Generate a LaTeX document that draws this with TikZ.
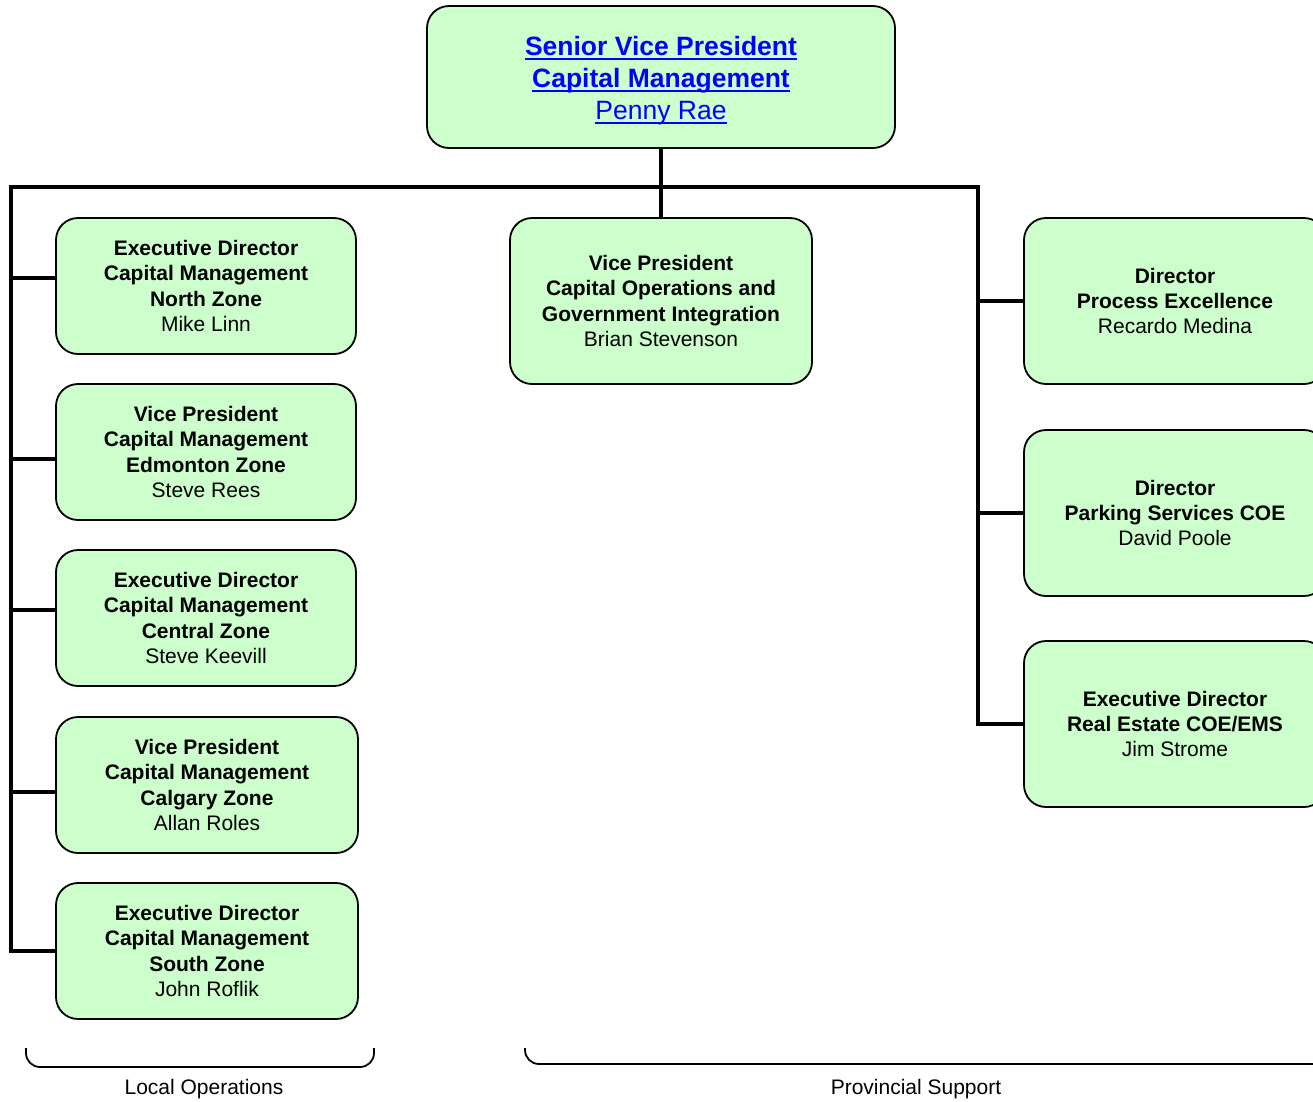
\documentclass[tikz,border=0pt]{standalone}
\usepackage{fontspec}
\setmainfont{Liberation Sans}
\definecolor{boxfill}{HTML}{CCFFCC}
\definecolor{linkblue}{HTML}{0000FF}
\newcommand\myul[2][2pt]{\leavevmode\setbox0\hbox{#2}\rlap{\vrule width\wd0 height -2.5pt depth \dimexpr2.5pt+#1\relax}\box0}
\begin{document}
\begin{tikzpicture}[x=1pt,y=-1pt,
  orgbox/.style={draw=black, line width=1.8pt, fill=boxfill, rounded corners=22pt,
    inner sep=0pt, align=center, font=\fontsize{21}{25.3}\selectfont},
  toptext/.style={inner sep=0pt, align=center, text=linkblue, font=\fontsize{26.5}{32}\selectfont},
  conn/.style={line width=3.2pt, line cap=rect},
  bracepath/.style={line width=1.8pt, rounded corners=14pt},
  lbl/.style={font=\fontsize{21}{25}\selectfont, inner sep=0pt}]
\useasboundingbox (0,0) rectangle (1313,1101);
\clip (0,0) rectangle (1313,1101);

% top
\node[orgbox, minimum width=468pt, minimum height=142pt] (top) at (661,77) {};
\node[toptext] (toplbl) at (661,81)
  {\bfseries\myul{Senior Vice President}\\ \bfseries\myul{Capital Management}\\ \myul[1.6pt]{Penny Rae}};

% left column
\node[orgbox, minimum width=300pt, minimum height=136pt] (n1) at (206,286)
  {\bfseries Executive Director\\ \bfseries Capital Management\\ \bfseries North Zone\\ Mike Linn};
\node[orgbox, minimum width=300pt, minimum height=136pt] (n2) at (206,452)
  {\bfseries Vice President\\ \bfseries Capital Management\\ \bfseries Edmonton Zone\\ Steve Rees};
\node[orgbox, minimum width=300pt, minimum height=136pt] (n3) at (206,618)
  {\bfseries Executive Director\\ \bfseries Capital Management\\ \bfseries Central Zone\\ Steve Keevill};
\node[orgbox, minimum width=302pt, minimum height=136pt] (n4) at (207,785)
  {\bfseries Vice President\\ \bfseries Capital Management\\ \bfseries Calgary Zone\\ Allan Roles};
\node[orgbox, minimum width=302pt, minimum height=136pt] (n5) at (207,951)
  {\bfseries Executive Director\\ \bfseries Capital Management\\ \bfseries South Zone\\ John Roflik};

% middle
\node[orgbox, minimum width=302pt, minimum height=166pt] (mid) at (661,301)
  {\bfseries Vice President\\ \bfseries Capital Operations and\\ \bfseries Government Integration\\ Brian Stevenson};

% right column
\node[orgbox, minimum width=302pt, minimum height=166pt] (r1) at (1175,301)
  {\bfseries Director\\ \bfseries Process Excellence\\ Recardo Medina};
\node[orgbox, minimum width=302pt, minimum height=166pt] (r2) at (1175,513)
  {\bfseries Director\\ \bfseries Parking Services COE\\ David Poole};
\node[orgbox, minimum width=302pt, minimum height=166pt] (r3) at (1175,724)
  {\bfseries Executive Director\\ \bfseries Real Estate COE/EMS\\ Jim Strome};

% connectors
\coordinate (busL) at (11,187);
\coordinate (busR) at (978,187);
\coordinate (j1) at ([yshift=8pt]n1.west);
\coordinate (j2) at ([yshift=-7pt]n2.west);
\coordinate (j3) at ([yshift=8pt]n3.west);
\coordinate (j4) at ([yshift=-7pt]n4.west);
\draw[conn] (top.south) -- (mid.north);
\draw[conn] (busL) -- (busR);
\draw[conn] (busL) -- (busL |- n5.west) -- (n5.west);
\draw[conn] (busL |- j1) -- (j1);
\draw[conn] (busL |- j2) -- (j2);
\draw[conn] (busL |- j3) -- (j3);
\draw[conn] (busL |- j4) -- (j4);
\draw[conn] (busR) -- (busR |- r3.west) -- (r3.west);
\draw[conn] (busR |- r1.west) -- (r1.west);
\draw[conn] (busR |- r2.west) -- (r2.west);

% braces
\coordinate (bl1) at (26,1048);
\coordinate (bl2) at (374,1048);
\coordinate (bp1) at (525,1048);
\coordinate (bp2) at (1330,1048);
\draw[bracepath] (bl1) -- (26,1067) -- (374,1067) -- (bl2);
\draw[bracepath] (bp1) -- (525,1064) -- (1330,1064) -- (bp2);
\node[lbl] (loc) at (204,1089) {Local Operations};
\node[lbl] (prov) at (916,1089) {Provincial Support};
\end{tikzpicture}
\end{document}
